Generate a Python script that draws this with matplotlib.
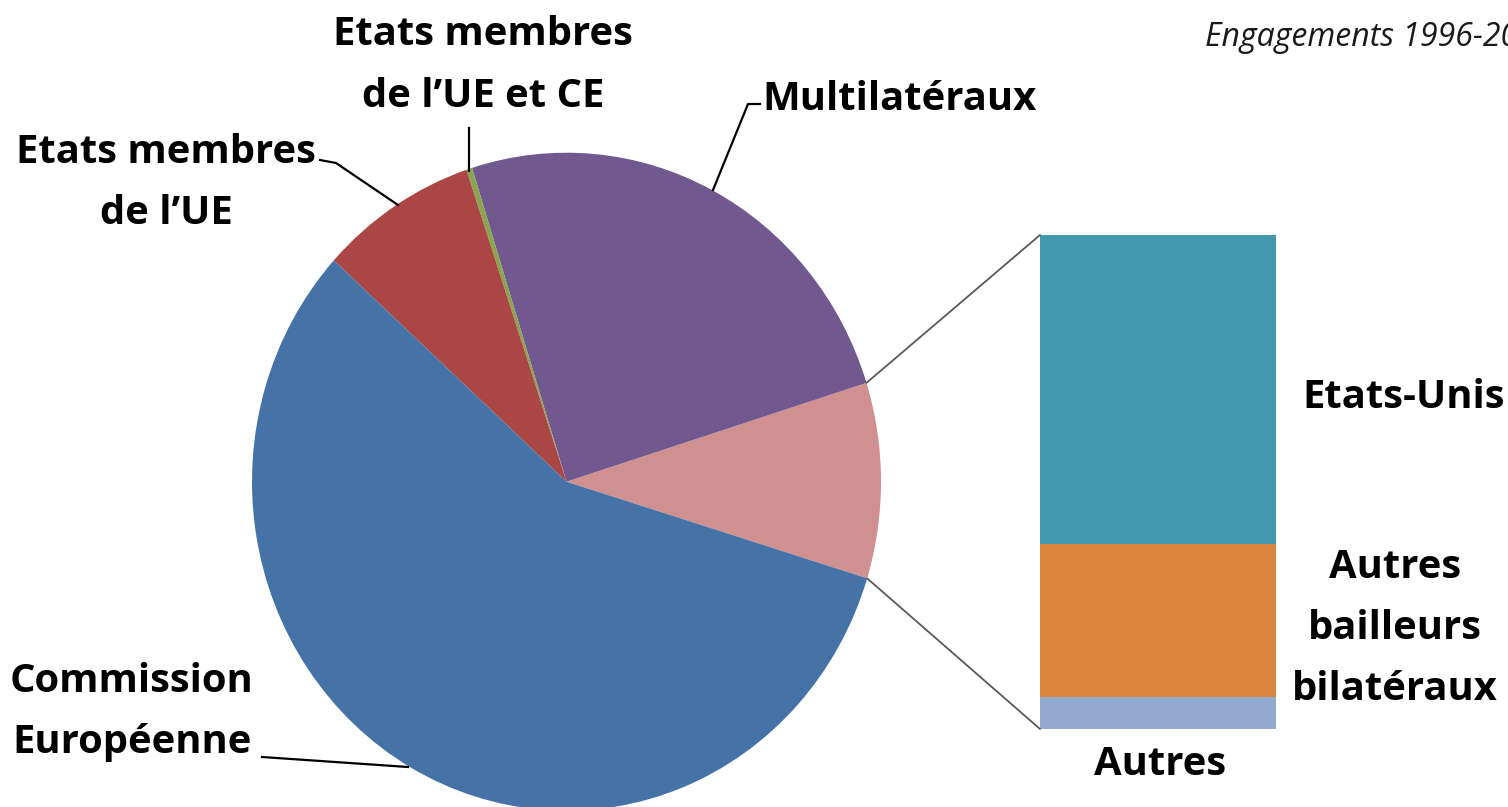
import matplotlib
matplotlib.use("Agg")
import matplotlib.pyplot as plt
from matplotlib.patches import ConnectionPatch
import numpy as np

# ---- data ----
pie_labels = ["Autres", "Multilatéraux", "Etats membres de l'UE et CE",
              "Etats membres de l'UE", "Commission Européenne"]
pie_values = [9.6, 25.0, 0.3, 8.1, 57.0]
pie_colors = ["#D09090", "#71588F", "#89A54E", "#AA4643", "#4572A7"]

bar_labels = ["Autres", "Autres bailleurs bilatéraux", "Etats-Unis"]
bar_values = [6.5, 31.0, 62.5]
bar_colors = ["#93A9CF", "#DB843D", "#4198AF"]

title_text = "Engagements 1996-2007"

W, H = 1508, 807
fig = plt.figure(figsize=(W / 100, H / 100), dpi=100)

FONT = "Open Sans"

def fx(px):
    return px / W

def fy(py):
    return 1 - py / H

# ---- pie (slightly elliptical as in reference) ----
cx, cy, rx, ry = 566.5, 481.7, 314.5, 329.0
ax_pie = fig.add_axes([fx(cx - rx), fy(cy + ry), 2 * rx / W, 2 * ry / H])
start = -pie_values[0] / 100 * 360 / 2 + 0.2
wedges, _ = ax_pie.pie(pie_values, colors=pie_colors, startangle=start,
                       counterclock=True, radius=1,
                       wedgeprops=dict(linewidth=0))
ax_pie.set_aspect("auto")
ax_pie.set_xlim(-1, 1)
ax_pie.set_ylim(-1, 1)
ax_pie.axis("off")

# ---- stacked bar of "Autres" ----
bx0, bx1, by0, by1 = 1040, 1276, 235, 729
ax_bar = fig.add_axes([fx(bx0), fy(by1), (bx1 - bx0) / W, (by1 - by0) / H])
bottom = 0
for v, c in zip(bar_values, bar_colors):
    ax_bar.bar(0, v, bottom=bottom, width=1, color=c, linewidth=0)
    bottom += v
ax_bar.set_xlim(-0.5, 0.5)
ax_bar.set_ylim(0, sum(bar_values))
ax_bar.axis("off")

# ---- connector lines ----
w0 = wedges[0]
for ang, ybar in [(w0.theta2, 1), (w0.theta1, 0)]:
    t = np.deg2rad(ang)
    con = ConnectionPatch(xyA=(np.cos(t), np.sin(t)), coordsA=ax_pie.transData,
                          xyB=(0, ybar), coordsB=ax_bar.transAxes,
                          color="#595959", linewidth=1.3)
    fig.add_artist(con)

# ---- overlay for labels & leader lines (pixel coords) ----
ov = fig.add_axes([0, 0, 1, 1], zorder=5)
ov.set_xlim(0, W)
ov.set_ylim(H, 0)
ov.axis("off")
ov.patch.set_alpha(0)

fs = 28.8
kw = dict(fontsize=fs, fontweight="bold", family=FONT, va="baseline", color="black")

def lines(x, baselines, texts, ha="center"):
    for b, t in zip(baselines, texts):
        ov.text(x, b, t, ha=ha, **kw)

lines(483, [45, 107], ["Etats membres", "de l\u2019UE et CE"])
lines(900, [110], ["Multilatéraux"])
lines(166, [163, 224], ["Etats membres", "de l\u2019UE"])
lines(132, [692, 753], ["Commission", "Européenne"])
lines(1404, [408], ["Etats-Unis"])
lines(1395, [578, 639, 700], ["Autres", "bailleurs", "bilatéraux"])
lines(1160, [775], ["Autres"])

ov.text(1205, 46, title_text, fontsize=23, style="italic", family=FONT,
        ha="left", va="baseline", color="#1a1a1a")

# leader lines
lk = dict(color="black", linewidth=1.6)
ov.plot([469, 469], [128, 171], **lk)
ov.plot([760, 748, 713], [104, 104, 190], **lk)
ov.plot([320, 336, 398], [160, 163, 205], **lk)
ov.plot([262, 408], [757, 767], **lk)

fig.savefig("out.png", dpi=100)
